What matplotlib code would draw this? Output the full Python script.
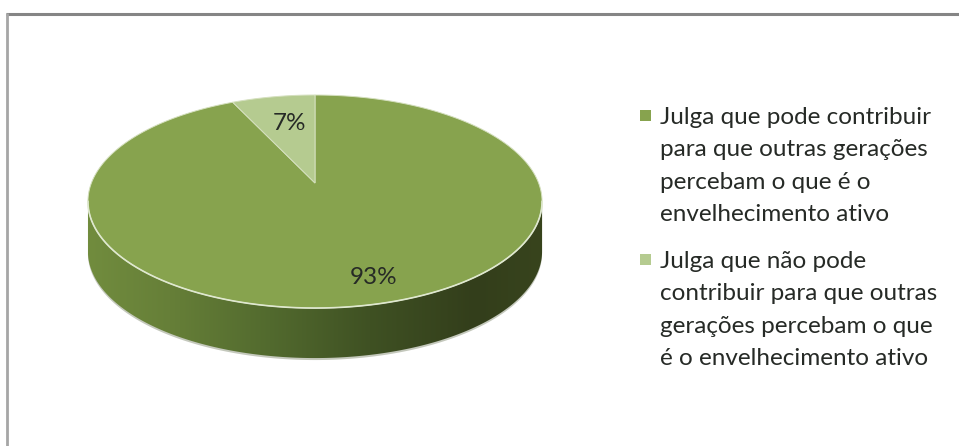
import numpy as np
import matplotlib
matplotlib.use('Agg')
import matplotlib.pyplot as plt
from matplotlib.colors import LinearSegmentedColormap
from matplotlib.patches import Polygon, Rectangle

# Data
Shares = [93, 7]
Labels = ['93%', '7%']
Legend1 = ['Julga que pode contribuir', 'para que outras gerações', 'percebam o que é o', 'envelhecimento ativo']
Legend2 = ['Julga que não pode', 'contribuir para que outras', 'gerações percebam o que', 'é o envelhecimento ativo']

DARK = '#87a34e'
LIGHT = '#b5cb90'
TEXT = '#262a26'

# Perspective of the pie top
CX, CY = 315, 183
W, H, K = 223.6, 103.3, 0.174
DEPTH = 50


def project(theta, r=1.0):
    # theta clockwise from 12 o'clock
    X = r * np.sin(theta)
    Y = r * np.cos(theta)
    d = 1 + K * Y
    return CX + W * X / d, CY - H * Y / d


fig = plt.figure(figsize=(9.59, 4.46), dpi=100)
ax = fig.add_axes([0, 0, 1, 1])
ax.set_xlim(0, 959)
ax.set_ylim(446, 0)
ax.axis('off')

# Frame (only top and left show in the crop)
ax.plot([6, 959], [13.5, 13.5], color='#858585', lw=2.2, solid_capstyle='butt')
ax.plot([6.5, 6.5], [12.5, 446], color='#a6a6a6', lw=2.0, solid_capstyle='butt')

t = np.linspace(0, 2 * np.pi, 721)
ex, ey = project(t)

# Side wall: front half of the outline pushed down
right = np.argmax(ex)
left = np.argmin(ex)
wx = np.concatenate([ex[right:left + 1], ex[right:left + 1][::-1]])
wy = np.concatenate([ey[right:left + 1], (ey[right:left + 1] + DEPTH)[::-1]])

# soft shadow under the wall
ax.add_patch(Polygon(np.c_[wx, wy + 2], closed=True, fc='#c4c8bc', ec='none', zorder=1))

wall_cmap = LinearSegmentedColormap.from_list('wall', [(0, '#718c3e'), (0.18, '#667f38'),
                                                       (0.4, '#526a2e'), (0.62, '#3f5123'),
                                                       (0.85, '#333e1b'), (1, '#38441d')])
img = ax.imshow(np.linspace(0, 1, 256)[None, :], cmap=wall_cmap, aspect='auto',
                extent=[ex.min(), ex.max(), 400, 150], zorder=2)
wall = Polygon(np.c_[wx, wy], closed=True, fc='none', ec='none', transform=ax.transData)
ax.add_patch(wall)
img.set_clip_path(wall)
ax.set_xlim(0, 959)
ax.set_ylim(446, 0)

# Top of the pie, slices start at 12 o'clock and the small one ends there
angles = 2 * np.pi * np.cumsum([0] + Shares) / sum(Shares)
colors = [DARK, LIGHT]
for i in range(len(Shares)):
    a = np.linspace(angles[i], angles[i + 1], 300)
    sx, sy = project(a)
    ax.fill(np.r_[CX, sx], np.r_[CY, sy], fc=colors[i], ec='#d5e0bf', lw=0.7, zorder=3)
ax.plot(ex[right:left + 1], ey[right:left + 1], color='#dfe8cf', lw=1.2, zorder=4)

# Slice labels
ax.text(374, 277, Labels[0], fontsize=17.5, family='Lato', color=TEXT, ha='center', va='center', zorder=5)
ax.text(290, 123, Labels[1], fontsize=17.5, family='Lato', color=TEXT, ha='center', va='center', zorder=5)

# Legend
ax.add_patch(Rectangle((640, 110), 11, 11, fc=DARK, ec='none'))
ax.add_patch(Rectangle((640, 254), 11, 11, fc=LIGHT, ec='none'))
ax.text(660, 166, '\n'.join(Legend1), fontsize=17.5, family='Lato', color=TEXT, va='center', ha='left', linespacing=1.65)
ax.text(660, 310, '\n'.join(Legend2), fontsize=17.5, family='Lato', color=TEXT, va='center', ha='left', linespacing=1.65)

fig.savefig('out.png', dpi=100)
